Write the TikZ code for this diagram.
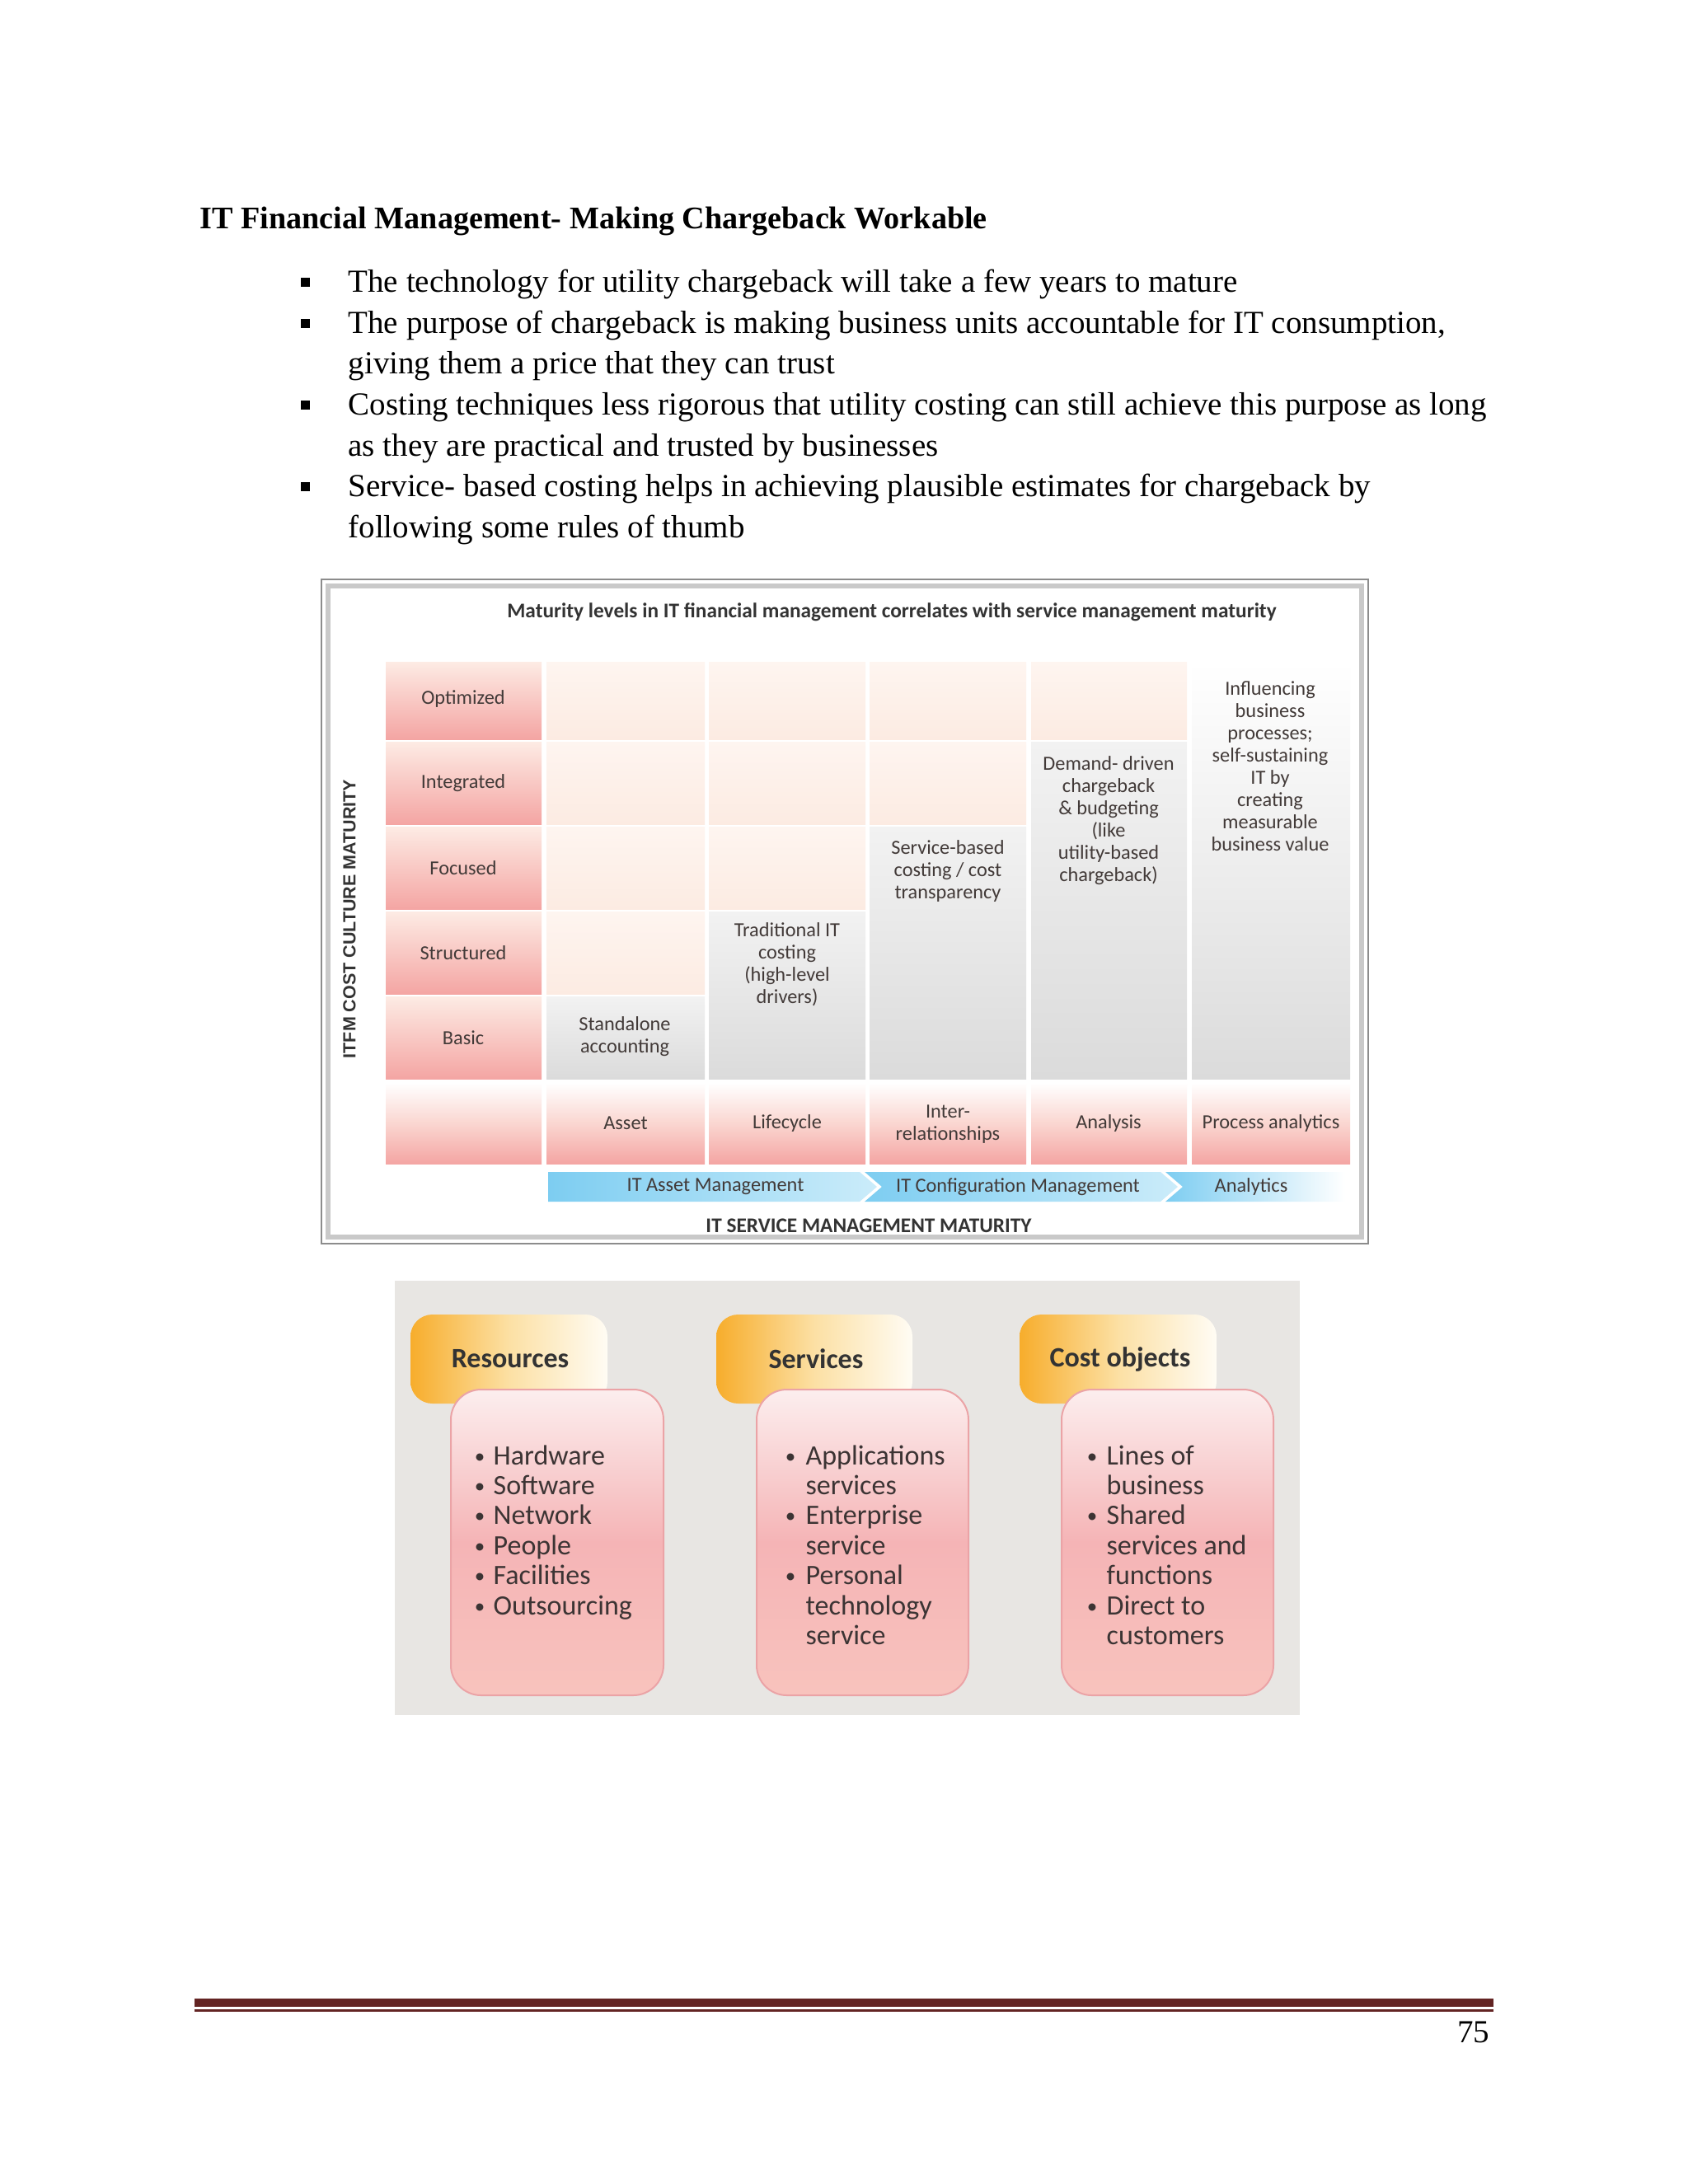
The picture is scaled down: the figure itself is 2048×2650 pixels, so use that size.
\documentclass[tikz,border=0pt]{standalone}
\usepackage{fontspec}
\setmainfont{Liberation Serif}
\newfontfamily\figfont{Carlito}
\newfontfamily\capfont{Liberation Sans}
\definecolor{footred}{HTML}{632423}
\definecolor{framedark}{HTML}{8C8C8C}
\definecolor{framelight}{HTML}{C9C9C9}
\definecolor{pinktop}{HTML}{FDEBE4}
\definecolor{pinkbot}{HTML}{F4A5A3}
\definecolor{peachtop}{HTML}{FEF5F0}
\definecolor{peachbot}{HTML}{FCEBE2}
\definecolor{graytop}{HTML}{F2F2F2}
\definecolor{graybot}{HTML}{DBDBDB}
\definecolor{blueA}{HTML}{7DCDF1}
\definecolor{blueB}{HTML}{CBECFA}
\definecolor{figtext}{HTML}{423A38}
\definecolor{figbg}{HTML}{E8E6E3}
\definecolor{taborange}{HTML}{F7AD2C}
\definecolor{tabmid}{HTML}{FCE0A4}
\definecolor{tabcream}{HTML}{FFFCF4}
\definecolor{boxtop}{HTML}{FCEEEE}
\definecolor{boxmid}{HTML}{F5B4B6}
\definecolor{boxbot}{HTML}{F8C3BD}
\definecolor{boxline}{HTML}{EBA3A6}
\definecolor{headcol}{HTML}{333333}
\definecolor{listcol}{HTML}{3C3434}
\tikzset{
  bodytext/.style={anchor=base west, inner sep=0pt, font=\fontsize{11.7}{15}\selectfont},
  peachcell/.style={top color=peachtop, bottom color=peachbot},
  graycell/.style={top color=graytop, bottom color=graybot},
  pinkcell/.style={top color=pinktop, bottom color=pinkbot},
  celltext/.style={font=\figfont\fontsize{7.3}{8.1}\selectfont, text=figtext, align=center, inner sep=0pt},
  figtitle/.style={font=\figfont\bfseries\fontsize{7.6}{8.5}\selectfont, text=headcol, inner sep=0pt},
  vlabel/.style={font=\capfont\bfseries\fontsize{6.45}{7}\selectfont, text=headcol, inner sep=0pt, rotate=90},
  tabbox/.style={rounded corners=8pt, left color=taborange, right color=tabcream, middle color=tabmid},
  bodybox/.style={rounded corners=11pt, draw=boxline, line width=0.6pt, top color=boxtop, bottom color=boxbot, middle color=boxmid},
  headtext/.style={font=\figfont\bfseries\fontsize{10.2}{11}\selectfont, text=headcol, inner sep=0pt},
  listtext/.style={font=\figfont\fontsize{10.2}{11}\selectfont, text=listcol, anchor=base west, inner sep=0pt},
  listdot/.style={font=\figfont\fontsize{7.5}{8}\selectfont, text=listcol, anchor=base, inner sep=0pt},
}
\begin{document}
\begin{tikzpicture}[x=0.3pt,y=-0.3pt]
\useasboundingbox (0,0) rectangle (2048,2650);
\fill[white] (0,0) rectangle (2048,2650);

% ---------- text part ----------
\node[bodytext, font=\fontsize{11.45}{15}\selectfont] (title) at (242,277) {\bfseries IT Financial Management- Making Chargeback Workable};
\node[bodytext] (l1) at (422,354) {The technology for utility chargeback will take a few years to mature};
\node[bodytext] (l2) at (422,404) {The purpose of chargeback is making business units accountable for IT consumption,};
\node[bodytext] (l3) at (422,453) {giving them a price that they can trust};
\node[bodytext] (l4) at (422,503) {Costing techniques less rigorous that utility costing can still achieve this purpose as long};
\node[bodytext] (l5) at (422,553) {as they are practical and trusted by businesses};
\node[bodytext] (l6) at (422,602) {Service- based costing helps in achieving plausible estimates for chargeback by};
\node[bodytext] (l7) at (422,652) {following some rules of thumb};
\foreach \y in {354,404,503,602}
  \fill[black] (365,\y-17) rectangle (376,\y-6);

% ---------- figure 1 ----------
\draw[framedark, line width=0.6pt] (390,703) rectangle (1660,1509);
\draw[framelight, line width=2pt] (398,711) rectangle (1652,1501);
\node[figtitle] (ftitle) at (1082,743) {Maturity levels in IT financial management correlates with service management maturity};

% row label cells
\foreach \ya/\yb in {803/897, 900/1000, 1003/1103, 1106/1206, 1209/1309}
  \path[pinkcell] (468,\ya) rectangle (657,\yb);
% bottom row
\foreach \xa/\xb in {468/657, 663/855, 860/1050, 1055/1245, 1251/1440, 1446/1638}
  \path[top color=white, bottom color=pinkbot, middle color=pinktop!70!pinkbot] (\xa,1314) rectangle (\xb,1412);
% peach cells
\foreach \xa/\xb/\ya/\yb in {663/855/803/897, 663/855/900/1000, 663/855/1003/1103, 663/855/1106/1206,
  860/1050/803/897, 860/1050/900/1000, 860/1050/1003/1103,
  1055/1245/803/897, 1055/1245/900/1000, 1251/1440/803/897}
  \path[peachcell] (\xa,\ya) rectangle (\xb,\yb);
% gray blocks
\path[graycell] (663,1209) rectangle (855,1309);
\path[graycell] (860,1106) rectangle (1050,1309);
\path[graycell] (1055,1003) rectangle (1245,1309);
\path[graycell] (1251,900) rectangle (1440,1309);
\path[top color=white, bottom color=graybot] (1446,803) rectangle (1638,1309);

\foreach \t/\y [count=\i] in {Optimized/848, Integrated/950, Focused/1053, Structured/1156, Basic/1259}
  \node[celltext] (row\i) at (562,\y) {\t};

\node[celltext] (g1) at (758,1258) {Standalone\\accounting};
\node[celltext] (g2) at (955,1170) {Traditional IT\\costing\\(high-level\\drivers)};
\node[celltext] (g3) at (1150,1057) {Service-based\\costing / cost\\transparency};
\node[celltext] (g4) at (1345,996) {Demand- driven\\chargeback\\\& budgeting\\(like\\utility-based\\chargeback)};
\node[celltext] (g5) at (1541,930) {Influencing\\business\\processes;\\self-sustaining\\IT by\\creating\\measurable\\business value};

\node[celltext] (b1) at (759,1363) {Asset};
\node[celltext] (b2) at (955,1363) {Lifecycle};
\node[celltext] (b3) at (1150,1364) {Inter-\\relationships};
\node[celltext] (b4) at (1345,1363) {Analysis};
\node[celltext] (b5) at (1542,1363) {Process analytics};

% chevron bands
\path[left color=blueA, right color=blueB] (665,1422) -- (1043,1422) -- (1064,1440) -- (1043,1458) -- (665,1458) -- cycle;
\path[left color=blueA, right color=blueB] (1049,1422) -- (1408,1422) -- (1429,1440) -- (1408,1458) -- (1049,1458) -- (1070,1440) -- cycle;
\path[left color=blueA, right color=white] (1414,1422) -- (1632,1422) -- (1632,1458) -- (1414,1458) -- (1435,1440) -- cycle;
\node[celltext] (m1) at (868,1440) {IT Asset Management};
\node[celltext] (m2) at (1235,1440) {IT Configuration Management};
\node[celltext] (m3) at (1518,1440) {Analytics};

\node[figtitle] (xlab) at (1054,1487) {IT SERVICE MANAGEMENT MATURITY};
\node[vlabel] (ylab) at (424,1115) {ITFM COST CULTURE MATURITY};

% ---------- figure 2 ----------
\fill[figbg] (479,1554) rectangle (1577,2081);
\path[tabbox] (498,1595) rectangle (737,1703);
\path[tabbox] (869,1595) rectangle (1107,1703);
\path[tabbox] (1237,1595) rectangle (1476,1703);
\path[bodybox] (547,1686) rectangle (805,2057);
\path[bodybox] (918,1686) rectangle (1175,2057);
\path[bodybox] (1288,1686) rectangle (1545,2057);

\node[headtext] (h1) at (619,1649) {Resources};
\node[headtext] (h2) at (990,1649) {Services};
\node[headtext] (h3) at (1359,1649) {Cost objects};

\foreach \t [count=\i] in {Hardware, Software, Network, People, Facilities, Outsourcing} {
  \node[listtext] (ra\i) at (598,{1777+36.4*(\i-1)}) {\t};
  \node[listdot] (rb\i) at (582,{1775+36.4*(\i-1)}) {•};
}
\foreach \t [count=\i] in {Applications, services, Enterprise, service, Personal, technology, service}
  \node[listtext] (sa\i) at (977,{1777+36.4*(\i-1)}) {\t};
\foreach \i in {1,3,5}
  \node[listdot] (sb\i) at (959,{1775+36.4*(\i-1)}) {•};
\foreach \t [count=\i] in {Lines of, business, Shared, services and, functions, Direct to, customers}
  \node[listtext] (ca\i) at (1342,{1777+36.4*(\i-1)}) {\t};
\foreach \i in {1,3,6}
  \node[listdot] (cb\i) at (1325,{1775+36.4*(\i-1)}) {•};

% ---------- footer ----------
\fill[footred] (236,2425) rectangle (1812,2435);
\fill[footred] (236,2438) rectangle (1812,2441);
\node[bodytext, anchor=base east] (pnum) at (1808,2478) {75};
\end{tikzpicture}
\end{document}
